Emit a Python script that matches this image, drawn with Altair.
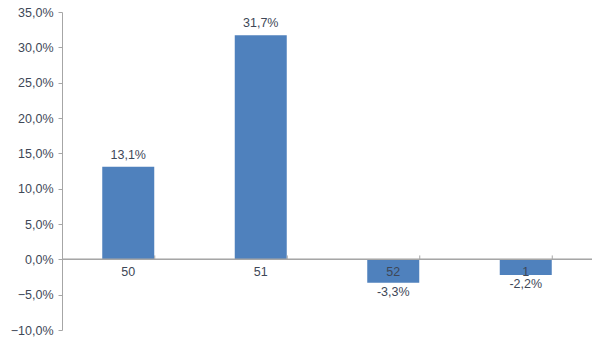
import altair as alt
import pandas as pd

categories = ["50", "51", "52", "1"]
values = [13.1, 31.7, -3.3, -2.2]
tick_values = [-10, -5, 0, 5, 10, 15, 20, 25, 30, 35]

df = pd.DataFrame({"cat": categories, "val": values})
df["label"] = [("%.1f" % v).replace(".", ",") + "%" for v in values]
df["pos"] = df["val"] >= 0

TXT = "#3E4757"
AX = "#A6A6A6"
FONT = "Liberation Sans"

xenc = alt.X("cat:N", sort=categories, axis=None,
             scale=alt.Scale(paddingInner=0.6, paddingOuter=0.3))
yscale = alt.Scale(domain=[-10, 35], nice=False, zero=False)
yaxis = alt.Axis(values=tick_values, labelOverlap=False,
                 labelExpr="replace(format(datum.value, '.1f'), '.', ',') + '%'",
                 title=None, grid=False, domainColor=AX, tickColor=AX,
                 tickSize=4, labelPadding=5, labelFont=FONT, labelFontSize=12.5,
                 labelColor=TXT)

bars = alt.Chart(df).mark_bar(color="#4F81BD", size=52).encode(
    x=xenc,
    y=alt.Y("val:Q", scale=yscale, axis=yaxis),
    y2=alt.datum(0),
)

zero = alt.Chart(df).mark_rule(color=AX, strokeWidth=1).encode(
    y=alt.YDatum(0, axis=yaxis), x=alt.value(0), x2=alt.value(530)
)

ticks = alt.Chart(df).mark_rule(color=AX, strokeWidth=1).encode(
    x=alt.X("cat:N", sort=categories, bandPosition=1, axis=None),
    y=alt.YDatum(0, axis=yaxis), y2=alt.datum(0.55)
)

catlab = alt.Chart(df).mark_text(font=FONT, fontSize=12.5, color=TXT, baseline="middle", dy=13).encode(
    x=xenc, y=alt.YDatum(0, axis=yaxis), text="cat:N"
)

pos_lab = alt.Chart(df[df["pos"]]).mark_text(font=FONT, fontSize=12.5, color=TXT, baseline="bottom", dy=-5).encode(
    x=xenc, y=alt.Y("val:Q", scale=yscale, axis=yaxis), text="label:N"
)
neg_lab = alt.Chart(df[~df["pos"]]).mark_text(font=FONT, fontSize=12.5, color=TXT, baseline="top", dy=3).encode(
    x=xenc, y=alt.Y("val:Q", scale=yscale, axis=yaxis), text="label:N"
)

chart = alt.layer(bars, zero, ticks, catlab, pos_lab, neg_lab).properties(
    width=530, height=318,
    autosize=alt.AutoSizeParams(type="none"),
    padding={"left": 62, "top": 12, "right": 8, "bottom": 14},
    background="white",
).configure_view(stroke=None)

chart.save("out.html", embed_options={"renderer": "svg", "actions": False})
